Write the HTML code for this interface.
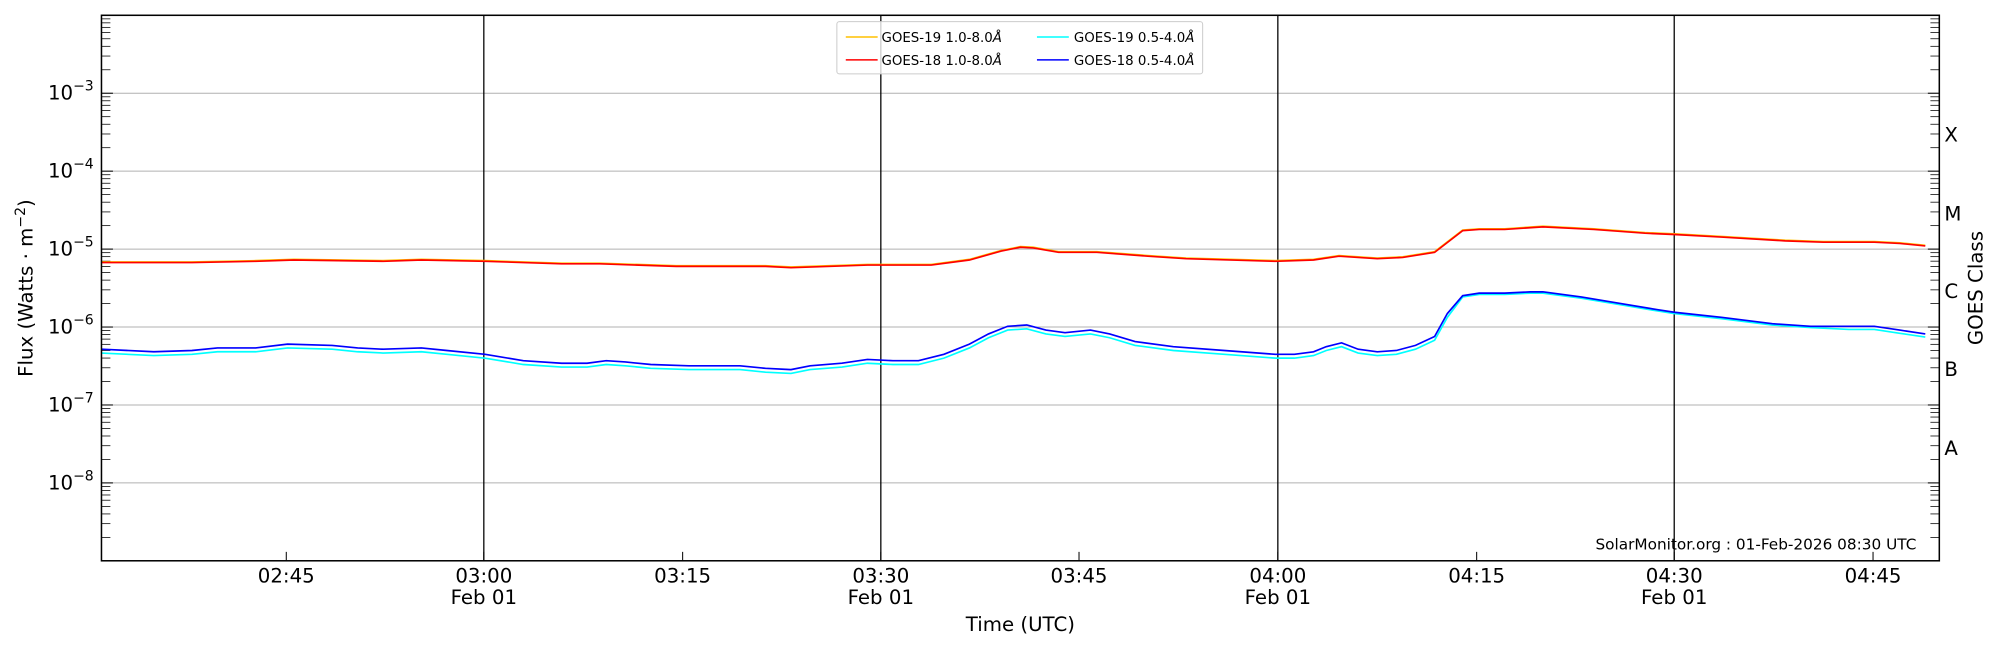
<!DOCTYPE html>
<html><head><meta charset="utf-8"><style>
html,body{margin:0;padding:0;background:#fff;}
svg{display:block;font-family:"DejaVu Sans","Liberation Sans",sans-serif;}
</style></head><body>
<svg id="s" width="2000" height="650" viewBox="0 0 1568 510" xmlns="http://www.w3.org/2000/svg">
<rect width="1568" height="510" fill="#fff"/>
<g id="grid"></g>
<g id="ticks"></g>
<line x1="379" y1="12" x2="379" y2="440" stroke="#000" stroke-width="1"/>
<line x1="690.5" y1="12" x2="690.5" y2="440" stroke="#000" stroke-width="1"/>
<line x1="1002" y1="12" x2="1002" y2="440" stroke="#000" stroke-width="1"/>
<line x1="1313" y1="12" x2="1313" y2="440" stroke="#000" stroke-width="1"/>
<polyline fill="none" stroke="#00ffff" stroke-width="1.3" id="cyan"/>
<polyline fill="none" stroke="#0000ff" stroke-width="1.3" id="blue"/>
<polyline fill="none" stroke="#ffc000" stroke-width="1.3" id="yel"/>
<polyline fill="none" stroke="#ff0000" stroke-width="1.3" id="red"/>
<rect x="79" y="12" width="1442" height="428" fill="none" stroke="#000" stroke-width="1.2"/>
<g font-size="15.5" fill="#000" id="ylab"></g>
<g font-size="15.5" fill="#000" text-anchor="middle">
<text x="224" y="457">02:45</text>
<text x="379" y="457">03:00</text><text x="379" y="474">Feb 01</text>
<text x="535" y="457">03:15</text>
<text x="690.5" y="457">03:30</text><text x="690.5" y="474">Feb 01</text>
<text x="846" y="457">03:45</text>
<text x="1002" y="457">04:00</text><text x="1002" y="474">Feb 01</text>
<text x="1158" y="457">04:15</text>
<text x="1313" y="457">04:30</text><text x="1313" y="474">Feb 01</text>
<text x="1469" y="457">04:45</text>
<text x="800" y="495">Time (UTC)</text>
</g>
<g font-size="15.5" fill="#000">
<text x="1525" y="111">X</text><text x="1525" y="173">M</text><text x="1525" y="234">C</text><text x="1525" y="295">B</text><text x="1525" y="357">A</text>
<text transform="translate(1555,226) rotate(-90)" text-anchor="middle">GOES Class</text>
<text transform="translate(25,226) rotate(-90)" text-anchor="middle">Flux (Watts · m<tspan dy="-6" font-size="11">−2</tspan><tspan dy="6">)</tspan></text>
</g>
<text x="1503" y="431" font-size="12" text-anchor="end">SolarMonitor.org : 01-Feb-2026 08:30 UTC</text>
<g font-size="10.5">
<rect x="656" y="17" width="287" height="41" rx="2" fill="#fff" fill-opacity="0.8" stroke="#ccc" stroke-width="0.8"/>
<line x1="663" y1="29" x2="688" y2="29" stroke="#ffc000" stroke-width="1.2"/>
<text x="691" y="33">GOES-19 1.0-8.0<tspan font-style="italic">Å</tspan></text>
<line x1="663" y1="47" x2="688" y2="47" stroke="#ff0000" stroke-width="1.2"/>
<text x="691" y="51">GOES-18 1.0-8.0<tspan font-style="italic">Å</tspan></text>
<line x1="813" y1="29" x2="838" y2="29" stroke="#00ffff" stroke-width="1.2"/>
<text x="842" y="33">GOES-19 0.5-4.0<tspan font-style="italic">Å</tspan></text>
<line x1="813" y1="47" x2="838" y2="47" stroke="#0000ff" stroke-width="1.2"/>
<text x="842" y="51">GOES-18 0.5-4.0<tspan font-style="italic">Å</tspan></text>
</g>
</svg>
<script>
var NS="http://www.w3.org/2000/svg";
function el(p,n,a){var e=document.createElementNS(NS,n);for(var k in a)e.setAttribute(k,a[k]);p.appendChild(e);return e;}
var grid=document.getElementById('grid'),ticks=document.getElementById('ticks'),yl=document.getElementById('ylab');
var dec=61.15; function yOf(l){return 12+(-2-l)*dec;}
for(var d=-3;d>=-8;d--){var y=yOf(d);
 el(grid,'line',{x1:79,x2:1521,y1:y,y2:y,stroke:'#b0b0b0','stroke-width':0.8});
 el(ticks,'line',{x1:79,x2:88,y1:y,y2:y,stroke:'#000','stroke-width':0.8});
 el(ticks,'line',{x1:1512,x2:1521,y1:y,y2:y,stroke:'#000','stroke-width':0.8});
 var t=el(yl,'text',{x:37,y:y+5});t.textContent='10';var ts=el(t,'tspan',{dy:-7,'font-size':11});ts.textContent='−'+(-d);
}
for(var d=-9;d<-2;d++)for(var m=2;m<10;m++){var y=yOf(d+Math.log10(m));
 el(ticks,'line',{x1:79,x2:86,y1:y,y2:y,stroke:'#000','stroke-width':0.6});
 el(ticks,'line',{x1:1514,x2:1521,y1:y,y2:y,stroke:'#000','stroke-width':0.6});}
[224,379,535,690.5,846,1002,1158,1313,1469].forEach(function(x){el(ticks,'line',{x1:x,x2:x,y1:433,y2:440,stroke:'#000','stroke-width':0.8});});
var red=[[79,206],[150,206],[200,205],[230,204],[300,205],[330,204],[380,205],[440,207],[470,207],[530,209],[600,209],[620,210],[680,208],[730,208],[760,204],[785,197],[800,194],[810,194.5],[830,198],[860,198],[900,201],[930,203],[1000,205],[1030,204],[1050,201],[1080,203],[1100,202],[1125,198],[1147,181],[1160,180],[1180,180],[1210,178],[1250,180],[1290,183],[1313,184],[1350,186],[1400,189],[1430,190],[1470,190],[1490,191],[1510,193]];
var blue=[[79,274],[120,276],[150,275],[170,273],[200,273],[225,270],[260,271],[280,273],[300,274],[330,273],[350,275],[380,278],[410,283],[440,285],[460,285],[475,283],[490,284],[510,286],[540,287],[580,287],[600,289],[620,290],[635,287],[660,285],[680,282],[700,283],[720,283],[740,278],[760,270],[775,262],[790,256],[805,255],[820,259],[835,261],[855,259],[870,262],[890,268],[920,272],[960,275],[1000,278],[1015,278],[1030,276],[1040,272],[1052,269],[1065,274],[1080,276],[1095,275],[1110,271],[1125,264],[1135,246],[1147,232],[1160,230],[1180,230],[1200,229],[1210,229],[1240,233],[1270,238],[1300,243],[1313,245],[1350,249],[1390,254],[1420,256],[1450,256],[1470,256],[1490,259],[1510,262]];
function s(a){return a.map(function(p){return p[0]+','+p[1];}).join(' ');}
document.getElementById('red').setAttribute('points',s(red));
document.getElementById('yel').setAttribute('points',s(red.map(function(p){return [p[0],p[1]-0.5];})));
document.getElementById('blue').setAttribute('points',s(blue));
document.getElementById('cyan').setAttribute('points',s(blue.map(function(p){var o=p[0]<1140?3:(p[0]<1450?1:2.5);return [p[0],p[1]+o];})));
</script>
</body></html>
